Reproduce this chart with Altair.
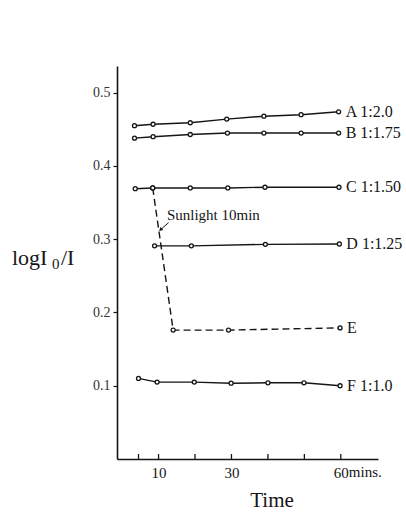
import altair as alt
import pandas as pd

# ---- data ----
a_t = [3.4, 8.5, 18.7, 28.7, 38.9, 49.1, 59.4]
a_v = [0.455, 0.457, 0.459, 0.464, 0.468, 0.470, 0.474]
b_t = [3.4, 8.5, 18.7, 28.9, 38.9, 49.1, 59.4]
b_v = [0.438, 0.440, 0.443, 0.445, 0.445, 0.445, 0.445]
c_t = [3.6, 8.4, 18.7, 29.0, 39.2, 59.5]
c_v = [0.369, 0.370, 0.370, 0.370, 0.371, 0.371]
d_t = [8.9, 19.0, 39.3, 59.6]
d_v = [0.291, 0.291, 0.293, 0.2935]
e_t = [8.4, 14.0, 29.2, 59.8]
e_v = [0.370, 0.176, 0.176, 0.179]
f_t = [4.5, 9.6, 19.8, 29.9, 40.0, 49.9, 59.8]
f_v = [0.110, 0.105, 0.105, 0.1035, 0.104, 0.104, 0.100]

series_names = ["A", "B", "C", "D", "E", "F"]
series_labels = ["A 1:2.0", "B 1:1.75", "C 1:1.50", "D 1:1.25", "E", "F 1:1.0"]
x_tick_values = [4.5, 10, 20, 30, 40, 50, 60]
x_label_values = [10, 30, 60]
y_tick_values = [0.1, 0.2, 0.3, 0.4, 0.5]
annot_text = ["Sunlight 10min"]
annot_pos = [12.3, 0.333]
arrow_from = [12.75, 0.3226]
arrow_to = [10.66, 0.3136]

FONT = "Liberation Serif"
INK = "#151515"
W, H = 261, 393

all_t = [a_t, b_t, c_t, d_t, e_t, f_t]
all_v = [a_v, b_v, c_v, d_v, e_v, f_v]
rows = []
for name, ts, vs in zip(series_names, all_t, all_v):
    for t, v in zip(ts, vs):
        rows.append({"series": name, "t": t, "v": v})
df = pd.DataFrame(rows)
solid = df[df.series != "E"]
dashed = df[df.series == "E"]

labels_df = pd.DataFrame({
    "series": series_names,
    "label": series_labels,
    "t": [ts[-1] for ts in all_t],
    "v": [vs[-1] for vs in all_v],
})

xs = alt.Scale(domain=[-1.4, 70.2], nice=False, zero=False)
ys = alt.Scale(domain=[0, 0.5365], nice=False, zero=False)

X = alt.X("t:Q", scale=xs, axis=alt.Axis(
    values=x_label_values, labelExpr="datum.value", ticks=False, grid=False,
    domainColor=INK, domainWidth=1.6, labelFont=FONT, labelFontSize=15,
    labelColor=INK, labelPadding=6, title=None))
Y = alt.Y("v:Q", scale=ys, axis=alt.Axis(
    values=y_tick_values, format=".1f", grid=False, tickSize=4, tickColor=INK,
    tickWidth=1.2, domainColor=INK, domainWidth=1.6, labelFont=FONT,
    labelFontSize=14, labelColor="#333", labelPadding=3, title=None))

base = alt.Chart(df)

lines_solid = alt.Chart(solid).mark_line(color=INK, strokeWidth=1.4).encode(
    x=X, y=Y, detail="series:N", order="t:Q")
lines_dashed = alt.Chart(dashed).mark_line(
    color=INK, strokeWidth=1.4, strokeDash=[7, 4]).encode(
    x=alt.X("t:Q", scale=xs), y=alt.Y("v:Q", scale=ys), order="t:Q")
points = base.mark_point(shape="circle", filled=True, fill="white",
                         stroke=INK, strokeWidth=1.3, size=16, opacity=1).encode(
    x=alt.X("t:Q", scale=xs), y=alt.Y("v:Q", scale=ys))

labels = alt.Chart(labels_df).mark_text(
    align="left", baseline="middle", dx=7, font=FONT, fontSize=16, color=INK
).encode(x=alt.X("t:Q", scale=xs), y=alt.Y("v:Q", scale=ys), text="label:N")

xticks = alt.Chart(pd.DataFrame({"t": x_tick_values})).mark_rule(
    color=INK, strokeWidth=1.3).encode(
    x=alt.X("t:Q", scale=xs), y=alt.value(H), y2=alt.value(H - 5))

mins = alt.Chart(pd.DataFrame({"t": [60], "s": ["mins."]})).mark_text(
    align="left", baseline="top", dx=8, dy=6, font=FONT, fontSize=15, color=INK
).encode(x=alt.X("t:Q", scale=xs), y=alt.value(H), text="s:N")

annot = alt.Chart(pd.DataFrame({"t": [annot_pos[0]], "v": [annot_pos[1]],
                                "s": annot_text})).mark_text(
    align="left", baseline="middle", font=FONT, fontSize=15, color=INK
).encode(x=alt.X("t:Q", scale=xs), y=alt.Y("v:Q", scale=ys), text="s:N")

arrow = alt.Chart(pd.DataFrame({"t": [arrow_from[0]], "v": [arrow_from[1]],
                                "t2": [arrow_to[0]], "v2": [arrow_to[1]]})).mark_rule(
    color=INK, strokeWidth=1).encode(
    x=alt.X("t:Q", scale=xs), y=alt.Y("v:Q", scale=ys), x2="t2:Q", y2="v2:Q")
arrow_head = alt.Chart(pd.DataFrame({"t": [arrow_to[0]], "v": [arrow_to[1]]})).mark_point(
    shape="triangle", filled=True, color=INK, size=18, angle=229, opacity=1).encode(
    x=alt.X("t:Q", scale=xs), y=alt.Y("v:Q", scale=ys))

one = pd.DataFrame({"a": [0]})
ytitle1 = alt.Chart(one).mark_text(text="logI", align="left", baseline="alphabetic",
                                   font=FONT, fontSize=22, color=INK).encode(
    x=alt.value(-105), y=alt.value(199))
ytitle2 = alt.Chart(one).mark_text(text="0", align="left", baseline="alphabetic",
                                   font=FONT, fontSize=15, color=INK).encode(
    x=alt.value(-65), y=alt.value(203))
ytitle3 = alt.Chart(one).mark_text(text="/I", align="left", baseline="alphabetic",
                                   font=FONT, fontSize=22, color=INK).encode(
    x=alt.value(-56), y=alt.value(199))
xtitle = alt.Chart(one).mark_text(text="Time", align="center", baseline="middle",
                                  font=FONT, fontSize=21, color=INK).encode(
    x=alt.value(155), y=alt.value(435))

chart = alt.layer(
    lines_solid, lines_dashed, points, labels, xticks, mins, annot, arrow,
    arrow_head, ytitle1, ytitle2, ytitle3, xtitle
).properties(
    width=W, height=H,
    autosize=alt.AutoSizeParams(type="none"),
    padding={"left": 117, "top": 66, "right": 28, "bottom": 55},
    background="white",
).configure_view(stroke=None)

chart.save("out.html", embed_options={"renderer": "svg", "actions": False})
